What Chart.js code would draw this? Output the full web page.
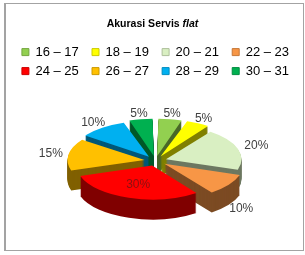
<!DOCTYPE html>
<html>
<head>
<meta charset="utf-8">
<script src="https://cdn.jsdelivr.net/npm/chart.js@4/dist/chart.umd.min.js"></script>
<style>
html, body { margin: 0; padding: 0; background: #fff; }
#wrap { position: relative; width: 305px; height: 255px; }
#frame { position: absolute; left: 4px; top: 3px; width: 297px; height: 246px;
         border: 1px solid #a3a3a3; border-left-width: 2px; pointer-events: none; }
</style>
</head>
<body>
<div id="wrap">
  <canvas id="myChart" width="305" height="255"></canvas>
  <div id="frame"></div>
</div>
<script>
const categories = ['16 – 17', '18 – 19', '20 – 21', '22 – 23', '24 – 25', '26 – 27', '28 – 29', '30 – 31'];
const shares = [5, 5, 20, 10, 30, 15, 10, 5];
const sliceColors = ['#92d050', '#ffff00', '#d9efc2', '#f79646', '#ff0000', '#ffc000', '#00b0f0', '#00b050'];

const FONT = '"Liberation Sans", Arial, sans-serif';
const TITLE_PAD = {top: 18, bottom: 9};

// darken a #rrggbb colour by a factor
function shade(hex, f) {
    const n = parseInt(hex.slice(1), 16);
    const r = Math.round(((n >> 16) & 255) * f);
    const g = Math.round(((n >> 8) & 255) * f);
    const b = Math.round((n & 255) * f);
    return 'rgb(' + r + ',' + g + ',' + b + ')';
}

// squashes the pie and stacks darker copies of each slice under it
const pie3d = {
    id: 'pie3d',
    beforeDatasetsDraw(chart, args, opts) {
        const ctx = chart.ctx;
        const arcs = chart.getDatasetMeta(0).data;
        const cx = arcs[0].x, cy = arcs[0].y;
        ctx.save();
        ctx.translate(cx, cy);
        ctx.scale(1, opts.tilt);
        ctx.translate(-cx, -cy);
        const order = arcs.slice().sort((a, b) =>
            Math.sin((a.startAngle + a.endAngle) / 2) - Math.sin((b.startAngle + b.endAngle) / 2));
        order.forEach(arc => {
            const keep = arc.options;
            arc.options = Object.assign({}, keep, {
                backgroundColor: shade(keep.backgroundColor, opts.sideShade),
                borderWidth: 0
            });
            for (let d = opts.depth; d > 0; d--) {
                ctx.save();
                ctx.translate(0, d / opts.tilt);
                arc.draw(ctx);
                ctx.restore();
            }
            arc.options = keep;
        });
    },
    afterDatasetsDraw(chart, args, opts) {
        const ctx = chart.ctx;
        ctx.restore();
        const total = shares.reduce((a, b) => a + b, 0);
        ctx.save();
        ctx.font = '12px ' + FONT;
        ctx.textAlign = 'center';
        ctx.textBaseline = 'middle';
        chart.getDatasetMeta(0).data.forEach((arc, i) => {
            const mid = (arc.startAngle + arc.endAngle) / 2;
            const shift = arc.options.offset / 4;
            const inside = shares[i] / total >= 0.25;
            const r = inside ? arc.outerRadius * 0.6 + shift : arc.outerRadius + shift + 20;
            const px = arc.x + Math.cos(mid) * r;
            const py = arc.y + Math.sin(mid) * r * opts.tilt +
                (inside ? 0 : Math.max(0, Math.sin(mid)) * opts.depth * 1.7);
            ctx.fillStyle = inside ? '#8b1010' : '#404040';
            ctx.fillText(Math.round(shares[i] / total * 100) + '%', px, py);
        });
        ctx.restore();
    },
    afterDraw(chart) {
        // title with an italic last word
        const ctx = chart.ctx;
        const y = chart.titleBlock.top + TITLE_PAD.top + 6.3;
        const a = 'Akurasi Servis ', b = 'flat';
        ctx.save();
        ctx.fillStyle = '#000';
        ctx.textBaseline = 'middle';
        ctx.textAlign = 'left';
        ctx.font = 'bold 10.5px ' + FONT;
        const wa = ctx.measureText(a).width;
        ctx.font = 'italic bold 10.5px ' + FONT;
        const wb = ctx.measureText(b).width;
        const x0 = chart.width / 2 - (wa + wb) / 2;
        ctx.font = 'bold 10.5px ' + FONT;
        ctx.fillText(a, x0, y);
        ctx.font = 'italic bold 10.5px ' + FONT;
        ctx.fillText(b, x0 + wa, y);
        ctx.restore();
    }
};

const config = {
    type: 'pie',
    data: {
        labels: categories,
        datasets: [{
            data: shares,
            backgroundColor: sliceColors,
            borderWidth: 0,
            offset: 44,
            radius: 75,
            clip: false
        }]
    },
    options: {
        responsive: false,
        animation: false,
        events: [],
        layout: {padding: {left: 6, bottom: 21}},
        plugins: {
            title: {
                display: true,
                text: 'Akurasi Servis flat',
                color: 'rgba(0,0,0,0)',
                font: {family: FONT, size: 10.5, weight: 'bold'},
                padding: TITLE_PAD
            },
            legend: {
                position: 'top',
                labels: {
                    boxWidth: 7,
                    boxHeight: 7,
                    padding: 6,
                    color: '#000',
                    font: {family: FONT, size: 13},
                    generateLabels(chart) {
                        const items = Chart.overrides.pie.plugins.legend.labels.generateLabels(chart);
                        return items.map((it, i) => Object.assign(it, {
                            text: i % 4 === 3 ? it.text : it.text + '  ',
                            strokeStyle: shade(sliceColors[i], 0.8),
                            lineWidth: 1
                        }));
                    }
                }
            },
            tooltip: {enabled: false},
            pie3d: {tilt: 0.45, depth: 20, sideShade: 0.5}
        }
    },
    plugins: [pie3d]
};

const myChart = new Chart(document.getElementById('myChart'), config);
</script>
</body>
</html>
